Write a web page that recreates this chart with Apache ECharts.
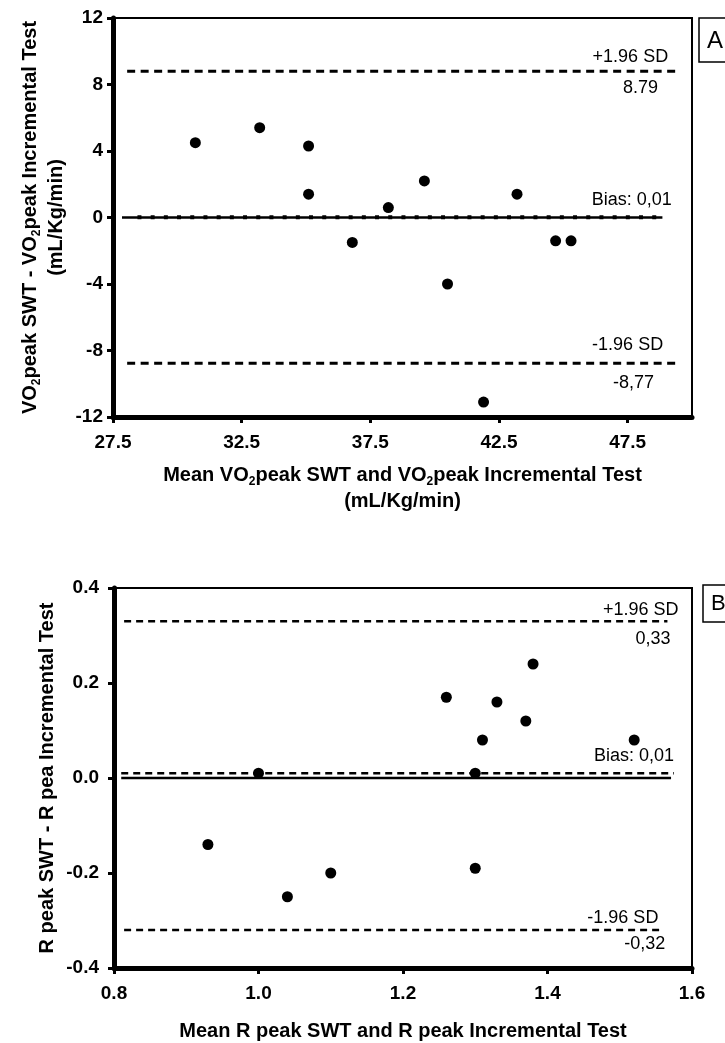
<!DOCTYPE html>
<html>
<head>
<meta charset="utf-8">
<title>Bland-Altman plots</title>
<script src="https://cdn.jsdelivr.net/npm/echarts@6/dist/echarts.min.js"></script>
<style>
  html, body { margin: 0; padding: 0; background: #fff; }
  #chart { width: 725px; height: 1043px; }
</style>
</head>
<body>
<div id="chart"></div>
<script>
// Panel A: VO2peak (mL/Kg/min)
const vo2Mean = [30.7, 33.2, 35.1, 35.1, 36.8, 38.2, 39.6, 40.5, 41.9, 43.2, 44.7, 45.3];
const vo2Diff = [4.5, 5.4, 4.3, 1.4, -1.5, 0.6, 2.2, -4.0, -11.1, 1.4, -1.4, -1.4];
const vo2XTicks = [27.5, 32.5, 37.5, 42.5, 47.5];
const vo2YTicks = [-12, -8, -4, 0, 4, 8, 12];
const vo2Limits = [8.79, 0.01, -8.77];            // +1.96 SD, bias, -1.96 SD
const vo2LimitText = ['8.79', 'Bias: 0,01', '-8,77'];

// Panel B: R peak
const rMean = [0.93, 1.00, 1.04, 1.10, 1.26, 1.33, 1.38, 1.37, 1.31, 1.52, 1.30, 1.30];
const rDiff = [-0.14, 0.01, -0.25, -0.20, 0.17, 0.16, 0.24, 0.12, 0.08, 0.08, 0.01, -0.19];
const rXTicks = [0.8, 1.0, 1.2, 1.4, 1.6];
const rYTicks = [-0.4, -0.2, 0, 0.2, 0.4];
const rLimits = [0.33, 0.01, -0.32];
const rLimitText = ['0,33', 'Bias: 0,01', '-0,32'];

const FONT = '"Liberation Sans", Arial, sans-serif';
const BLACK = '#000';

function zip(xs, ys) { return xs.map((x, i) => [x, ys[i]]); }

function valueAxis(opts) {
  return {
    type: 'value',
    gridIndex: opts.grid,
    min: opts.min,
    max: opts.max,
    name: opts.name,
    nameLocation: 'middle',
    nameGap: opts.nameGap,
    nameMoveOverlap: false,
    nameRotate: opts.nameRotate,
    nameTextStyle: {
      color: BLACK, fontFamily: FONT, fontWeight: 'bold', fontSize: 20, lineHeight: 26,
      rich: {
        b: { color: BLACK, fontFamily: FONT, fontWeight: 'bold', fontSize: 20, lineHeight: 26 },
        s: { color: BLACK, fontFamily: FONT, fontWeight: 'bold', fontSize: 12, lineHeight: 14, verticalAlign: 'bottom' }
      }
    },
    axisLine: { show: true, onZero: false, lineStyle: { color: BLACK, width: 5 } },
    axisTick: { show: true, length: 6, lineStyle: { color: BLACK, width: 3 }, customValues: opts.ticks },
    axisLabel: {
      show: true, customValues: opts.ticks, margin: opts.margin,
      color: BLACK, fontFamily: FONT, fontWeight: 'bold', fontSize: 19,
      formatter: opts.fmt
    },
    splitLine: { show: false }
  };
}

// Horizontal reference line drawn as a two-point line series
function refLine(grid, value, span, type, width) {
  return {
    type: 'line', xAxisIndex: grid, yAxisIndex: grid, silent: true, z: 3,
    symbol: 'none', animation: false,
    data: [[span[0], value], [span[1], value]],
    lineStyle: { color: BLACK, width: width, type: type, cap: 'butt', opacity: 1 }
  };
}

// Text attached to the right end of a reference line
function refText(grid, items) {
  return {
    type: 'scatter', xAxisIndex: grid, yAxisIndex: grid, silent: true, z: 5,
    symbolSize: 1, itemStyle: { color: 'rgba(0,0,0,0)', opacity: 1 }, animation: false,
    data: items.map(it => ({
      value: [it.x, it.y],
      label: { formatter: it.text, offset: it.offset }
    })),
    label: {
      show: true, position: 'inside', align: 'right', verticalAlign: 'middle',
      color: BLACK, opacity: 1, fontFamily: FONT, fontSize: 18
    }
  };
}

function points(grid, xs, ys) {
  return {
    type: 'scatter', xAxisIndex: grid, yAxisIndex: grid, z: 6, silent: true,
    symbol: 'circle', symbolSize: 11, animation: false,
    itemStyle: { color: BLACK, borderWidth: 0, opacity: 1 },
    data: zip(xs, ys)
  };
}

// line extents along x for each panel
const spanA = { limit: [28.05, 49.5], bias: [28.45, 48.9], zero: [27.85, 48.85] };
const spanB = { upper: [0.814, 1.566], bias: [0.81, 1.575], zero: [0.81, 1.571], lower: [0.814, 1.559] };

const option = {
  animation: false,
  backgroundColor: '#fff',
  grid: [
    { left: 113, right: 33, top: 18, height: 399, show: true, borderColor: BLACK, borderWidth: 2, backgroundColor: 'transparent', outerBoundsMode: 'none' },
    { left: 114, right: 33, top: 588, height: 380, show: true, borderColor: BLACK, borderWidth: 2, backgroundColor: 'transparent', outerBoundsMode: 'none' }
  ],
  xAxis: [
    valueAxis({
      grid: 0, min: 27.5, max: 50, ticks: vo2XTicks, margin: 16, nameGap: 45,
      fmt: v => v.toFixed(1),
      name: '{b|Mean VO}{s|2}{b|peak SWT and VO}{s|2}{b|peak Incremental Test}\n{b|(mL/Kg/min)}'
    }),
    valueAxis({
      grid: 1, min: 0.8, max: 1.6, ticks: rXTicks, margin: 16, nameGap: 50,
      fmt: v => v.toFixed(1),
      name: '{b|Mean R peak SWT and R peak Incremental Test}'
    })
  ],
  yAxis: [
    valueAxis({
      grid: 0, min: -12, max: 12, ticks: vo2YTicks, margin: 10, nameGap: 44, nameRotate: 90,
      fmt: v => String(v),
      name: '{b|VO}{s|2}{b|peak SWT - VO}{s|2}{b|peak Incremental Test}\n{b|(mL/Kg/min)}'
    }),
    valueAxis({
      grid: 1, min: -0.4, max: 0.4, ticks: rYTicks, margin: 15, nameGap: 54, nameRotate: 90,
      fmt: v => v.toFixed(1),
      name: '{b|R peak SWT - R pea Incremental Test}'
    })
  ],
  series: [
    // Panel A
    refLine(0, 0, spanA.zero, 'solid', 2.5),
    refLine(0, vo2Limits[0], spanA.limit, [8, 5.5], 3),
    refLine(0, vo2Limits[1], spanA.bias, [4, 9.2], 4),
    refLine(0, vo2Limits[2], spanA.limit, [8, 5.5], 3),
    refText(0, [
      { x: spanA.limit[1], y: vo2Limits[0], text: '+1.96 SD', offset: [-11, -14] },
      { x: spanA.limit[1], y: vo2Limits[0], text: vo2LimitText[0], offset: [-21, 17] },
      { x: spanA.bias[1], y: vo2Limits[1], text: vo2LimitText[1], offset: [8, -17] },
      { x: spanA.limit[1], y: vo2Limits[2], text: '-1.96 SD', offset: [-16, -18] },
      { x: spanA.limit[1], y: vo2Limits[2], text: vo2LimitText[2], offset: [-25, 20] }
    ]),
    points(0, vo2Mean, vo2Diff),
    // Panel B
    refLine(1, 0, spanB.zero, 'solid', 2.5),
    refLine(1, rLimits[0], spanB.upper, [7, 5], 2.5),
    refLine(1, rLimits[1], spanB.bias, [7, 5], 2.5),
    refLine(1, rLimits[2], spanB.lower, [7, 5], 2.5),
    refText(1, [
      { x: spanB.upper[1], y: rLimits[0], text: '+1.96 SD', offset: [11, -11] },
      { x: spanB.upper[1], y: rLimits[0], text: rLimitText[0], offset: [3, 18] },
      { x: spanB.bias[1], y: rLimits[1], text: rLimitText[1], offset: [0, -17] },
      { x: spanB.lower[1], y: rLimits[2], text: '-1.96 SD', offset: [-4, -12] },
      { x: spanB.lower[1], y: rLimits[2], text: rLimitText[2], offset: [3, 14] }
    ]),
    points(1, rMean, rDiff)
  ],
  graphic: [
    { type: 'rect', shape: { x: 699, y: 18, width: 40, height: 44 }, style: { fill: '#fff', stroke: BLACK, lineWidth: 1.5 } },
    { type: 'text', x: 707, y: 41, style: { text: 'A', fontFamily: FONT, fontSize: 24, fill: BLACK, verticalAlign: 'middle' } },
    { type: 'rect', shape: { x: 703, y: 585, width: 40, height: 37 }, style: { fill: '#fff', stroke: BLACK, lineWidth: 1.5 } },
    { type: 'text', x: 711, y: 604, style: { text: 'B', fontFamily: FONT, fontSize: 22, fill: BLACK, verticalAlign: 'middle' } }
  ]
};

const chart = echarts.init(document.getElementById('chart'), null, { renderer: 'canvas' });
chart.setOption(option);
</script>
</body>
</html>
